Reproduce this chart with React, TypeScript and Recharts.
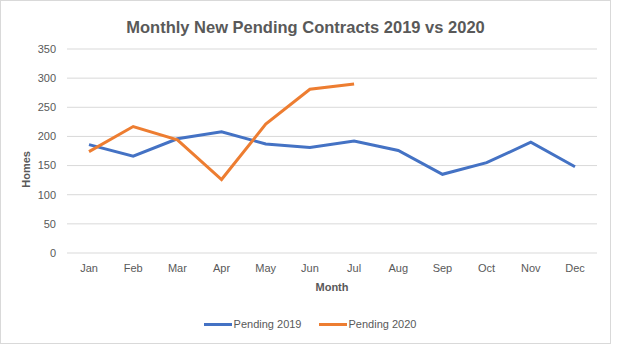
import { LineChart, Line, XAxis, YAxis, CartesianGrid } from 'recharts'

const months = ['Jan', 'Feb', 'Mar', 'Apr', 'May', 'Jun', 'Jul', 'Aug', 'Sep', 'Oct', 'Nov', 'Dec']
const pending2019 = [186, 166, 196, 208, 187, 181, 192, 176, 135, 155, 190, 148]
const pending2020 = [174, 217, 194, 126, 221, 281, 290]
const yTicks = [0, 50, 100, 150, 200, 250, 300, 350]

const seriesNames = ['Pending 2019', 'Pending 2020']
const seriesColors = ['#4472C4', '#ED7D31']

const data = months.map((m, i) => ({
  month: m,
  p2019: pending2019[i],
  p2020: i < pending2020.length ? pending2020[i] : null,
}))

const FONT = '"Liberation Sans", Arial, sans-serif'
const GREY = '#595959'

export default function App() {
  return (
    <div
      style={{
        position: 'absolute', left: 0, top: 0,
        width: 611, height: 344, boxSizing: 'border-box',
        border: '1px solid #d9d9d9', background: '#fff', fontFamily: FONT,
      }}
    >
      <div
        style={{
          position: 'absolute', left: 0, right: 0, top: 17, textAlign: 'center',
          fontSize: 16.5, fontWeight: 'bold', color: GREY,
        }}
      >
        Monthly New Pending Contracts 2019 vs 2020
      </div>
      <div style={{ position: 'absolute', left: -1, top: -1 }}>
        <LineChart
          width={611}
          height={344}
          data={data}
          margin={{ top: 49, right: 14, bottom: 61, left: 27 }}
        >
          <CartesianGrid vertical={false} stroke="#d9d9d9" />
          <XAxis
            dataKey="month"
            axisLine={false}
            tickLine={false}
            tickSize={0}
            tickMargin={11}
            height={30}
            padding={{ left: 22, right: 22 }}
            tick={{ fontSize: 11, fill: GREY, fontFamily: FONT }}
            label={{ value: 'Month', position: 'bottom', offset: 0, fontSize: 11, fontWeight: 'bold', fill: GREY, fontFamily: FONT }}
          />
          <YAxis
            domain={[0, 350]}
            ticks={yTicks}
            axisLine={false}
            tickLine={false}
            tickSize={0}
            tickMargin={11}
            width={40}
            tick={{ fontSize: 11, fill: GREY, fontFamily: FONT }}
            label={{ value: 'Homes', angle: -90, position: 'left', offset: 1, fontSize: 11, fontWeight: 'bold', fill: GREY, fontFamily: FONT }}
          />
          <Line
            type="linear"
            dataKey="p2019"
            name={seriesNames[0]}
            stroke={seriesColors[0]}
            strokeWidth={3}
            dot={false}
            isAnimationActive={false}
          />
          <Line
            type="linear"
            dataKey="p2020"
            name={seriesNames[1]}
            stroke={seriesColors[1]}
            strokeWidth={3}
            dot={false}
            connectNulls={false}
            isAnimationActive={false}
          />
        </LineChart>
      </div>
      <div
        style={{
          position: 'absolute', left: 0, width: 618, top: 317, display: 'flex',
          justifyContent: 'center', gap: 17, fontSize: 11, color: GREY,
        }}
      >
        {seriesNames.map((n, i) => (
          <div key={n} style={{ display: 'flex', alignItems: 'center' }}>
            <span style={{ display: 'inline-block', width: 28, height: 3, background: seriesColors[i], marginRight: 2 }} />
            <span>{n}</span>
          </div>
        ))}
      </div>
    </div>
  )
}
